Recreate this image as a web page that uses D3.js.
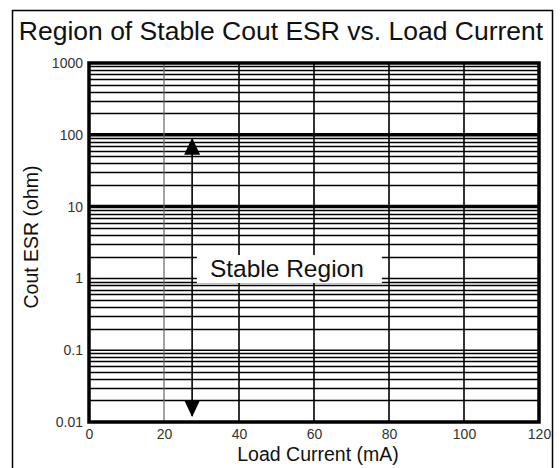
<html>
<head>
<title>Region of Stable Cout ESR</title>
<script src="https://cdnjs.cloudflare.com/ajax/libs/d3/7.8.5/d3.min.js"></script>
<style>
    body { margin: 0; background: #fff; }
    text { font-family: "Liberation Sans", Arial, sans-serif; }
</style>
</head>
<body>
<div id="chart"></div>
<script type="text/javascript">
    // Data ***********************
    var xTicks = [0, 20, 40, 60, 80, 100, 120];
    var yTicks = [0.01, 0.1, 1, 10, 100, 1000];
    var yTickLabels = ["0.01", "0.1", "1", "10", "100", "1000"];
    var thickDecades = [10, 100];
    var arrowX = 27.5;            // mA
    var arrowRange = [100, 0.01]; // ohm, top to bottom
    var labelPos = {x: 53.3, y: 1.35, text: "Stable Region"};

    // Layout ***********************
    var W = 560, H = 468;
    var margin = {top: 63, right: 21, bottom: 46, left: 89};
    var width = W - margin.left - margin.right;
    var height = H - margin.top - margin.bottom;

    var x = d3.scaleLinear().domain([0, 120]).range([0, width]);
    var y = d3.scaleLog().domain([0.01, 1000]).range([height, 0]);

    var root = d3.select("#chart").append("svg")
        .attr("width", W)
        .attr("height", H);

    // outer frame
    root.append("rect")
        .attr("x", 12.5).attr("y", 10.5)
        .attr("width", 540).attr("height", 470)
        .attr("fill", "none")
        .attr("stroke", "#000")
        .attr("stroke-width", 1.5);

    // title
    root.append("text")
        .attr("x", 281).attr("y", 40)
        .attr("text-anchor", "middle")
        .style("font-size", "26.5px")
        .attr("fill", "#111")
        .text("Region of Stable Cout ESR vs. Load Current");

    var svg = root.append("g")
        .attr("transform", "translate(" + margin.left + "," + margin.top + ")");

    // minor horizontal lines (2..9 in each decade)
    var minors = [];
    for (var d = 0; d < yTicks.length - 1; d++) {
        for (var m = 2; m <= 9; m++) minors.push(yTicks[d] * m);
    }
    svg.selectAll("line.minor")
        .data(minors)
        .enter().append("line")
        .attr("class", "minor")
        .attr("x1", 0).attr("x2", width)
        .attr("y1", function (v) { return Math.round(y(v)) + 0.5; })
        .attr("y2", function (v) { return Math.round(y(v)) + 0.5; })
        .attr("stroke", "#000")
        .attr("stroke-width", 1.5);

    // decade lines
    svg.selectAll("line.decade")
        .data(yTicks)
        .enter().append("line")
        .attr("class", "decade")
        .attr("x1", 0).attr("x2", width)
        .attr("y1", function (v) { return y(v); })
        .attr("y2", function (v) { return y(v); })
        .attr("stroke", "#000")
        .attr("stroke-width", function (v) { return thickDecades.indexOf(v) >= 0 ? 3.5 : 1.5; });

    // vertical grid lines
    svg.selectAll("line.vgrid")
        .data(xTicks.slice(1, -1))
        .enter().append("line")
        .attr("class", "vgrid")
        .attr("x1", function (v) { return x(v); })
        .attr("x2", function (v) { return x(v); })
        .attr("y1", 0).attr("y2", height)
        .attr("stroke", function (v) { return v === 20 ? "#666" : "#000"; })
        .attr("stroke-width", function (v) { return v === 20 ? 1.2 : 1.6; });

    // arrow
    var ax = x(arrowX);
    svg.append("line")
        .attr("x1", ax).attr("x2", ax)
        .attr("y1", y(arrowRange[0]) + 6)
        .attr("y2", y(arrowRange[1]) - 6)
        .attr("stroke", "#000")
        .attr("stroke-width", 1.6);
    var yTop = y(arrowRange[0]) + 3, yBot = y(arrowRange[1]) - 5;
    svg.append("path")
        .attr("d", "M" + ax + "," + yTop + "L" + (ax - 8) + "," + (yTop + 17) + "L" + (ax + 8) + "," + (yTop + 17) + "Z")
        .attr("fill", "#000");
    svg.append("path")
        .attr("d", "M" + ax + "," + yBot + "L" + (ax - 8) + "," + (yBot - 17) + "L" + (ax + 8) + "," + (yBot - 17) + "Z")
        .attr("fill", "#000");

    // label with white box
    var lx = x(labelPos.x), ly = y(labelPos.y);
    svg.append("rect")
        .attr("x", lx - 92).attr("y", ly - 14)
        .attr("width", 185).attr("height", 28)
        .attr("fill", "#fff");
    svg.append("text")
        .attr("x", lx - 2).attr("y", ly + 8)
        .attr("text-anchor", "middle")
        .style("font-size", "24.5px")
        .attr("fill", "#111")
        .text(labelPos.text);

    // plot border
    svg.append("rect")
        .attr("x", 0).attr("y", 0)
        .attr("width", width).attr("height", height)
        .attr("fill", "none")
        .attr("stroke", "#000")
        .attr("stroke-width", 3.5);

    // axes (labels only)
    var xAxis = svg.append("g")
        .attr("transform", "translate(0," + height + ")")
        .call(d3.axisBottom(x).tickValues(xTicks).tickSize(0).tickPadding(7));
    var yAxis = svg.append("g")
        .call(d3.axisLeft(y).tickValues(yTicks).tickSize(0).tickPadding(6)
            .tickFormat(function (v, i) { return yTickLabels[i]; }));
    [xAxis, yAxis].forEach(function (a) {
        a.select(".domain").remove();
        a.selectAll("text")
            .style("font-family", "'Liberation Sans', Arial, sans-serif")
            .style("font-size", "14px")
            .attr("fill", "#333");
    });

    // axis titles
    root.append("text")
        .attr("x", 318).attr("y", 461)
        .attr("text-anchor", "middle")
        .style("font-size", "19.5px")
        .attr("fill", "#111")
        .text("Load Current (mA)");
    root.append("text")
        .attr("transform", "translate(38," + 237 + ") rotate(-90)")
        .attr("text-anchor", "middle")
        .style("font-size", "19.5px")
        .attr("fill", "#111")
        .text("Cout ESR (ohm)");
</script>
</body>
</html>
